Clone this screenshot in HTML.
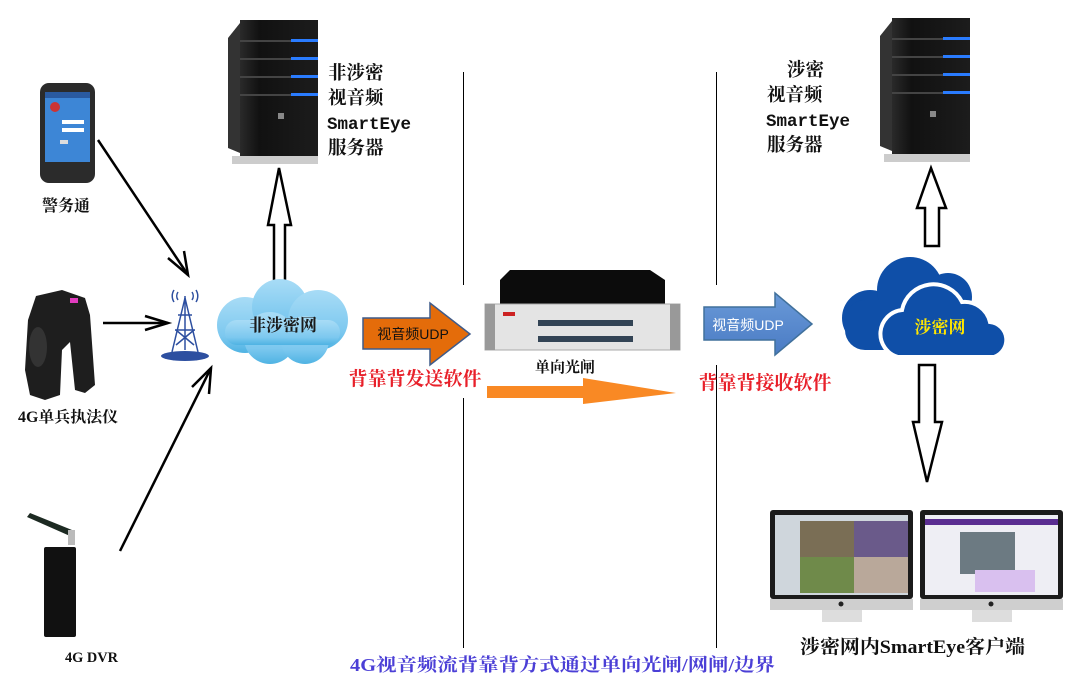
<!DOCTYPE html>
<html><head><meta charset="utf-8"><style>
html,body{margin:0;padding:0;background:#fff}
svg{display:block}
.s{font-family:"Liberation Serif","Noto Serif CJK SC",serif;font-weight:bold}
.m{font-family:"Liberation Mono","Noto Serif CJK SC",monospace;font-weight:bold}
.h{font-family:"Liberation Sans","Noto Sans CJK SC",sans-serif}
</style></head><body>
<svg width="1082" height="686" viewBox="0 0 1082 686" xmlns="http://www.w3.org/2000/svg">
<defs>
<linearGradient id="srv" x1="0" x2="1"><stop offset="0" stop-color="#2a2a2a"/><stop offset="0.25" stop-color="#111"/><stop offset="1" stop-color="#1c1c1c"/></linearGradient>
<linearGradient id="cl" x1="0" y1="0" x2="0" y2="1"><stop offset="0" stop-color="#a8dcf6"/><stop offset="0.7" stop-color="#7cc8ef"/><stop offset="1" stop-color="#4fb3e3"/></linearGradient>
<linearGradient id="blu" x1="0" y1="0" x2="0" y2="1"><stop offset="0" stop-color="#6a9ad8"/><stop offset="1" stop-color="#4a7bc4"/></linearGradient>
<g id="server">
<polygon points="0,20 12,5 12,135 0,130" fill="#333"/>
<rect x="12" y="2" width="78" height="136" fill="url(#srv)"/>
<rect x="12" y="22" width="78" height="2" fill="#444"/>
<rect x="12" y="40" width="78" height="2" fill="#444"/>
<rect x="12" y="58" width="78" height="2" fill="#444"/>
<rect x="12" y="76" width="78" height="2" fill="#444"/>
<rect x="63" y="21" width="27" height="3" fill="#2a7cff"/>
<rect x="63" y="39" width="27" height="3" fill="#2a7cff"/>
<rect x="63" y="57" width="27" height="3" fill="#2a7cff"/>
<rect x="63" y="75" width="27" height="3" fill="#2a7cff"/>
<rect x="50" y="95" width="6" height="6" fill="#888"/>
<rect x="4" y="138" width="86" height="8" fill="#ccc"/>
</g>
</defs>

<line x1="463.5" y1="72" x2="463.5" y2="285" stroke="#000"/>
<line x1="463.5" y1="398" x2="463.5" y2="648" stroke="#000"/>
<line x1="716.5" y1="72" x2="716.5" y2="285" stroke="#000"/>
<line x1="716.5" y1="365" x2="716.5" y2="648" stroke="#000"/>

<use href="#server" x="228" y="18"/>
<use href="#server" x="880" y="16"/>

<text class="s" font-size="18.5" fill="#111"><tspan x="328" y="79">非涉密</tspan><tspan x="328" y="104">视音频</tspan><tspan x="328" y="154">服务器</tspan></text>
<text class="m" font-size="17.5" fill="#111" x="327" y="129">SmartEye</text>
<text class="s" font-size="18.5" fill="#111"><tspan x="787" y="76">涉密</tspan><tspan x="767" y="101">视音频</tspan><tspan x="767" y="151">服务器</tspan></text>
<text class="m" font-size="17.5" fill="#111" x="766" y="126">SmartEye</text>

<polygon points="279,168 268,225 274,225 274,282 285,282 285,225 291,225" fill="#fff" stroke="#000" stroke-width="2.5"/>
<polygon points="931,168 917,208 925,208 925,246 939,246 939,208 946,208" fill="#fff" stroke="#000" stroke-width="2.5"/>
<polygon points="927,482 913,422 919,422 919,365 935,365 935,422 942,422" fill="#fff" stroke="#000" stroke-width="2.5"/>

<rect x="40" y="83" width="55" height="100" rx="9" fill="#2b2b2b"/>
<rect x="45" y="92" width="45" height="70" fill="#3d86d6"/>
<rect x="45" y="92" width="45" height="6" fill="#2a5aa0"/>
<circle cx="55" cy="107" r="5" fill="#c33"/>
<rect x="62" y="120" width="22" height="4" fill="#fff"/>
<rect x="62" y="128" width="22" height="4" fill="#fff"/>
<rect x="60" y="140" width="8" height="4" fill="#ddd"/>
<text class="s" x="66" y="211" font-size="16" text-anchor="middle" fill="#111">警务通</text>

<path d="M36,296 L62,290 L85,298 L90,315 L95,385 L85,393 L75,390 L70,342 L62,350 L60,395 L45,400 L30,395 L25,370 L28,320 Z" fill="#1e1e1e"/>
<rect x="70" y="298" width="8" height="5" fill="#e23cbf"/>
<ellipse cx="38" cy="347" rx="9" ry="20" fill="#333"/>
<text class="s" x="18" y="422" font-size="15.5" fill="#111" textLength="100" lengthAdjust="spacingAndGlyphs">4G单兵执法仪</text>

<polygon points="27,517 30,513 72,530 70,536" fill="#1d2a22"/>
<rect x="68" y="530" width="7" height="15" fill="#bbb"/>
<rect x="44" y="547" width="32" height="90" rx="2" fill="#111"/>
<text class="s" x="65" y="662" font-size="15" fill="#111" textLength="53" lengthAdjust="spacingAndGlyphs">4G DVR</text>

<g stroke="#2d4fa0" stroke-width="1.5" fill="none">
<line x1="185" y1="298" x2="172" y2="352"/><line x1="185" y1="298" x2="198" y2="352"/>
<line x1="185" y1="296" x2="185" y2="350"/>
<line x1="178" y1="315" x2="192" y2="315"/><line x1="175" y1="330" x2="195" y2="330"/>
<line x1="176" y1="330" x2="194" y2="345"/><line x1="194" y1="330" x2="176" y2="345"/>
<path d="M178,292 a7,7 0 0 0 0,8 M192,292 a7,7 0 0 1 0,8 M174,290 a11,11 0 0 0 0,12 M196,290 a11,11 0 0 1 0,12"/>
</g>
<ellipse cx="185" cy="356" rx="24" ry="5" fill="#2d4fa0"/>

<g stroke="#000" stroke-width="2.5" fill="none">
<line x1="98" y1="140" x2="188" y2="275"/>
<polyline points="168,258 188,275 184,251"/>
<line x1="103" y1="323" x2="168" y2="323"/>
<polyline points="145,316 168,323 145,330"/>
<line x1="120" y1="551" x2="211" y2="368"/>
<polyline points="192,387 211,368 209,394"/>
</g>

<g fill="url(#cl)">
<circle cx="245" cy="325" r="28"/><circle cx="280" cy="307" r="28"/><circle cx="318" cy="320" r="30"/>
<circle cx="270" cy="338" r="26"/><circle cx="305" cy="340" r="24"/><rect x="225" y="320" width="115" height="25" rx="12"/>
</g>
<text class="s" x="283" y="331" font-size="17" text-anchor="middle" fill="#1a1a1a">非涉密网</text>

<polygon points="363,318 430,318 430,303 470,334 430,365 430,349 363,349" fill="#e46c0a" stroke="#3f5b8a" stroke-width="1.5"/>
<text class="h" x="413" y="339" font-size="14" text-anchor="middle" fill="#111">视音频UDP</text>

<polygon points="500,280 510,270 650,270 665,280 665,305 500,305" fill="#0c0c0c"/>
<rect x="485" y="304" width="195" height="46" fill="#e4e4e4" stroke="#aaa"/>
<rect x="485" y="304" width="10" height="46" fill="#999"/><rect x="670" y="304" width="10" height="46" fill="#999"/>
<rect x="538" y="320" width="95" height="6" fill="#345"/><rect x="538" y="336" width="95" height="6" fill="#345"/>
<rect x="503" y="312" width="12" height="4" fill="#c22"/>
<text class="s" x="565" y="372" font-size="15" text-anchor="middle" fill="#111">单向光闸</text>

<text class="s" x="415" y="385" font-size="19" text-anchor="middle" fill="#e8202a">背靠背发送软件</text>
<text class="s" x="765" y="389" font-size="19" text-anchor="middle" fill="#e8202a">背靠背接收软件</text>

<polygon points="487,386 583,386 583,378 676,393 583,404 583,398 487,398" fill="#f98924"/>

<polygon points="704,307 775,307 775,293 812,324 775,355 775,340 704,340" fill="url(#blu)" stroke="#41719c" stroke-width="1.5"/>
<text class="h" x="748" y="330" font-size="14" text-anchor="middle" fill="#fff">视音频UDP</text>

<g fill="#0f4fa8">
<circle cx="870" cy="318" r="28"/><circle cx="910" cy="290" r="33"/><circle cx="948" cy="297" r="24"/>
<rect x="845" y="300" width="110" height="50" rx="20"/>
</g>
<g fill="#0f4fa8" stroke="#fff" stroke-width="4">
<path d="M898,357 a24,24 0 0 1 4,-47 a32,32 0 0 1 60,-8 a26,26 0 0 1 28,20 a18,18 0 0 1 4,35 z"/>
</g>
<text class="s" x="940" y="333" font-size="17" text-anchor="middle" fill="#ffe600">涉密网</text>

<g>
<rect x="770" y="510" width="143" height="89" rx="3" fill="#1b1b1b"/>
<rect x="775" y="515" width="133" height="80" fill="#cfd6dc"/>
<rect x="800" y="521" width="108" height="72" fill="#7a6e55"/>
<rect x="854" y="521" width="54" height="36" fill="#6a5a8a"/>
<rect x="800" y="557" width="54" height="36" fill="#6f8a4a"/>
<rect x="854" y="557" width="54" height="36" fill="#b9a89a"/>
<rect x="770" y="599" width="143" height="11" fill="#cfcfcf"/>
<rect x="822" y="610" width="40" height="12" fill="#ddd"/>
<circle cx="841" cy="604" r="2.5" fill="#222"/>
<rect x="920" y="510" width="143" height="89" rx="3" fill="#1b1b1b"/>
<rect x="925" y="515" width="133" height="80" fill="#eeeef4"/>
<rect x="925" y="519" width="133" height="6" fill="#5a2d91"/>
<rect x="960" y="532" width="55" height="42" fill="#6c7a82"/>
<rect x="975" y="570" width="60" height="22" fill="#d9c0ef"/>
<rect x="920" y="599" width="143" height="11" fill="#cfcfcf"/>
<rect x="972" y="610" width="40" height="12" fill="#ddd"/>
<circle cx="991" cy="604" r="2.5" fill="#222"/>
</g>
<text class="s" x="800" y="653" font-size="19" fill="#111" textLength="225" lengthAdjust="spacingAndGlyphs">涉密网内SmartEye客户端</text>

<text class="s" x="350" y="671" font-size="18" fill="#4b3fd6" textLength="425" lengthAdjust="spacingAndGlyphs">4G视音频流背靠背方式通过单向光闸/网闸/边界</text>
</svg>
</body></html>
